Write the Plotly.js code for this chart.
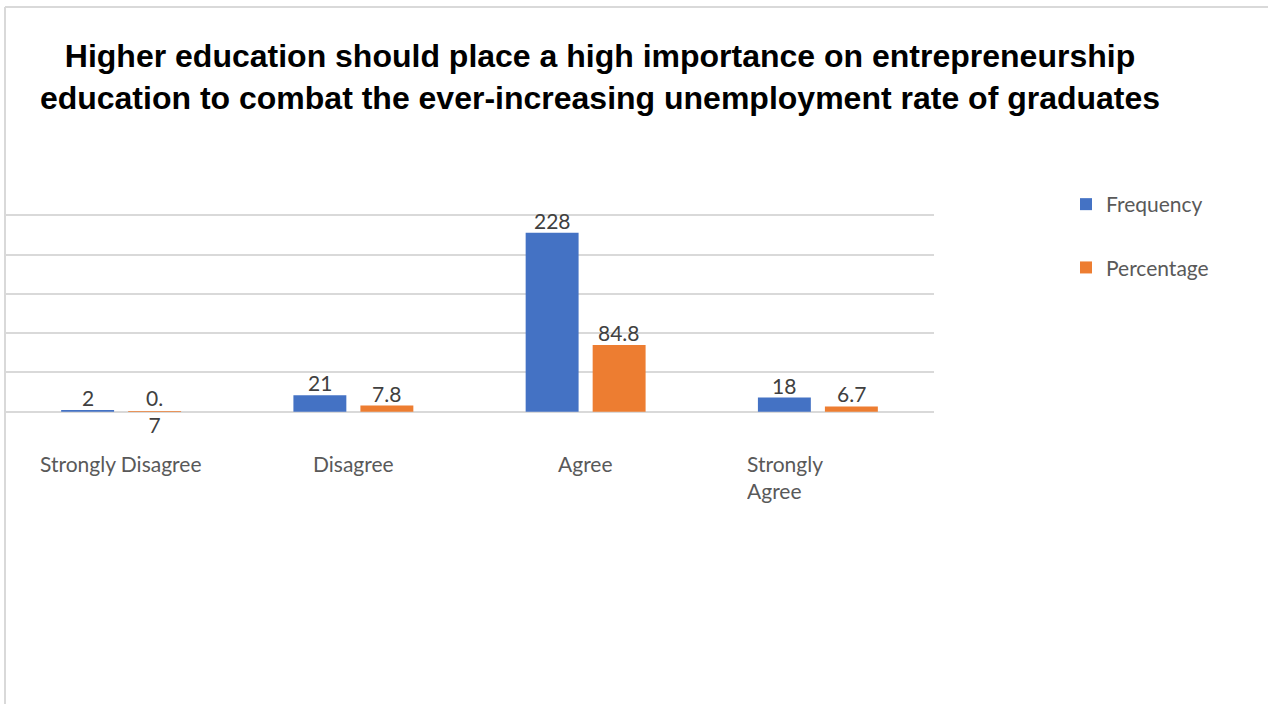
<!DOCTYPE html>
<html>
<head>
<meta charset="utf-8">
<script src="https://cdn.plot.ly/plotly-3.0.1.min.js"></script>
<style>html,body{margin:0;padding:0;background:#fff;}#chart{width:1268px;height:704px;}</style>
</head>
<body>
<div id="chart"></div>
<script>
const categories = ["Strongly Disagree", "Disagree", "Agree", "Strongly Agree"];
const tickLabels = ["Strongly Disagree", "Disagree", "Agree", "Strongly<br>Agree"];
const frequency = [2, 21, 228, 18];
const percentage = [0.7, 7.8, 84.8, 6.7];
const frequencyLabels = ["2", "21", "228", "18"];
const percentageLabels = ["0.<br>7", "7.8", "84.8", "6.7"];
const seriesNames = ["Frequency", "Percentage"];
const chartTitle = "Higher education should place a high importance on entrepreneurship<br>education to combat the ever-increasing unemployment rate of graduates";

const W = 1268, H = 704;
const M = {l: 5, r: 334, t: 210, b: 290};
const BLUE = "#4472C4", ORANGE = "#ED7D31";
const bargap = 0.423;
const FONT = "Lato, 'Open Sans', sans-serif";

const traces = [
  {type: "bar", name: seriesNames[0], x: categories, y: frequency, marker: {color: BLUE}, legendgroup: "a", hoverinfo: "none"},
  {type: "bar", name: seriesNames[1], x: categories, y: percentage, marker: {color: ORANGE}, legendgroup: "b", hoverinfo: "none"}
];

const plotW = W - M.l - M.r, plotH = H - M.t - M.b;
const px2paperY = py => (H - M.b - py) / plotH;
const px2paperX = px => (px - M.l) / plotW;

const off = (1 - bargap) / 4;
const annotations = [];
function addLabels(vals, labels, sign) {
  vals.forEach((v, i) => {
    const multi = labels[i].indexOf("<br>") >= 0;
    annotations.push({
      xref: "x", yref: "y", x: i + sign * off, y: v,
      text: labels[i], showarrow: false,
      xanchor: "center", yanchor: multi ? "middle" : "bottom",
      yshift: multi ? 0 : -2,
      font: {family: FONT, size: 21, color: "#404040"}
    });
  });
}
addLabels(frequency, frequencyLabels, -1);
addLabels(percentage, percentageLabels, 1);

// category labels
tickLabels.forEach((t, i) => {
  const multi = t.indexOf("<br>") >= 0;
  const a = {
    xref: "x", yref: "paper", x: i, y: px2paperY(449),
    text: t, showarrow: false, xanchor: "center", yanchor: "top",
    align: multi ? "left" : "center",
    font: {family: FONT, size: 21, color: "#595959"}
  };
  if (multi) a.width = 142;
  annotations.push(a);
});

const layout = {
  width: W, height: H,
  margin: M,
  paper_bgcolor: "#fff", plot_bgcolor: "#fff",
  barmode: "group", bargap: bargap, bargroupgap: 0.21,
  title: {
    text: "<b>" + chartTitle + "</b>",
    font: {family: "'Liberation Sans', Arial, sans-serif", size: 32, color: "#000"},
    x: 600 / W, xanchor: "center", xref: "container",
    y: 1 - 67 / H, yanchor: "top", yref: "container"
  },
  xaxis: {
    type: "category",
    showticklabels: false,
    showgrid: false, zeroline: false, showline: false, ticks: "",
    fixedrange: true
  },
  yaxis: {
    range: [-3, 257], dtick: 50, tick0: 0,
    showticklabels: false, ticks: "",
    showgrid: true, gridcolor: "#d9d9d9", gridwidth: 2,
    zeroline: true, zerolinecolor: "#d9d9d9", zerolinewidth: 2,
    showline: false, fixedrange: true
  },
  showlegend: true,
  legend: {
    x: px2paperX(1066), xanchor: "left",
    y: px2paperY(184), yanchor: "top",
    traceorder: "grouped", tracegroupgap: 33,
    font: {family: FONT, size: 21, color: "#595959"},
    bgcolor: "rgba(0,0,0,0)"
  },
  annotations: annotations,
  shapes: [
    {type: "line", xref: "paper", yref: "paper", x0: px2paperX(5), x1: px2paperX(5), y0: px2paperY(7), y1: px2paperY(710), line: {color: "#d9d9d9", width: 2}},
    {type: "line", xref: "paper", yref: "paper", x0: px2paperX(5), x1: px2paperX(1275), y0: px2paperY(7), y1: px2paperY(7), line: {color: "#d9d9d9", width: 2}}
  ]
};

Plotly.newPlot("chart", traces, layout, {displayModeBar: false, staticPlot: true});
</script>
</body>
</html>
